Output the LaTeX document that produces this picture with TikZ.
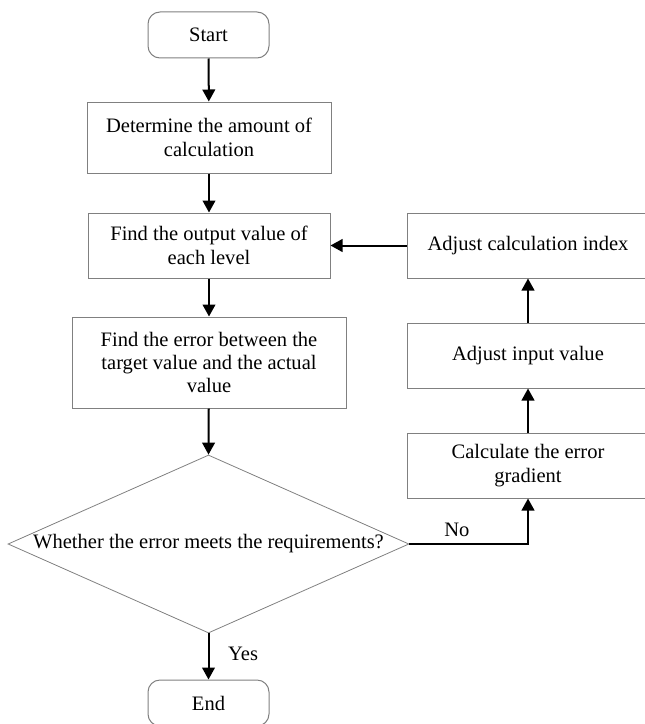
\documentclass[tikz,border=0pt]{standalone}
\usepackage{fontspec}
\setmainfont{Liberation Serif}
\usetikzlibrary{shapes.geometric,arrows.meta}
\definecolor{boxgray}{HTML}{808080}
\newcommand\figfont{\fontsize{15.4}{17.6}\selectfont}
\begin{document}
\begin{tikzpicture}[x=0.75pt,y=-0.75pt,
  box/.style={draw=boxgray, line width=0.75pt, align=center, font=\figfont, inner sep=0pt},
  term/.style={box, rounded corners=9pt, minimum width=90.75pt, minimum height=34.5pt},
  proc/.style={box, minimum width=181.5pt, minimum height=48.75pt},
  flow/.style={line width=1.5pt, -{Triangle[length=9pt,width=9.5pt]}},
  lbl/.style={font=\figfont, inner sep=0pt}]
\useasboundingbox (0,0) rectangle (644,724);
\node[term] (start) at (208.5,35) {Start};
\node[box, minimum width=183pt, minimum height=53.25pt] (b1) at (209,137.5) {Determine the amount of\\calculation};
\node[proc] (b2) at (209,245.5) {Find the output value of\\each level};
\node[box, minimum width=205.5pt, minimum height=68.25pt] (b3) at (209,362.5) {Find the error between the\\target value and the actual\\value};
\node[draw=boxgray, line width=0.6pt, diamond, minimum width=300.75pt, minimum height=133.5pt, inner sep=0pt] (dec) at (208.5,544) {};
\node[lbl] (dectext) at (dec.center) {Whether the error meets the requirements?};
\node[term] (end) at (208.5,703) {End};
\node[proc] (r1) at (528,245.5) {Adjust calculation index};
\node[proc] (r2) at (528,355.5) {Adjust input value};
\node[proc] (r3) at (528,465.5) {Calculate the error\\gradient};
\draw[flow] (start) -- (b1);
\draw[flow] (b1) -- (b2);
\draw[flow] (b2) -- (b3);
\draw[flow] (b3) -- (dec.north);
\draw[flow] (dec.south) -- (end) node[lbl, pos=0.45, right=14pt] (yes) {Yes};
\draw[flow] (dec.east) -| (r3.south) node[lbl, pos=0.2, above=5pt] (no) {No};
\draw[flow] (r3) -- (r2);
\draw[flow] (r2) -- (r1);
\draw[flow] (r1) -- (b2);
\end{tikzpicture}
\end{document}
